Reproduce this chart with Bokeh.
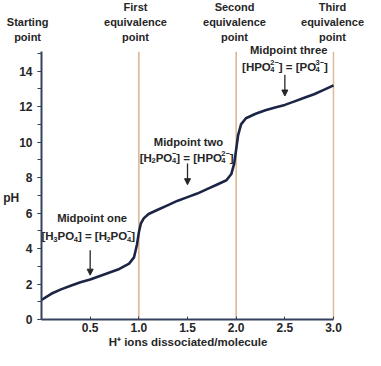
from bokeh.plotting import figure
from bokeh.layouts import column
from bokeh.models import (Range1d, FixedTicker, SingleIntervalTicker, Label, Arrow,
                          NormalHead, ColumnDataSource)
from bokeh.embed import file_html
from bokeh.resources import INLINE

# ---------------- data ----------------
h_dissociated = [0.0, 0.1, 0.2, 0.3, 0.4, 0.5, 0.6, 0.7, 0.8, 0.9, 0.95, 0.98, 1.0,
                 1.02, 1.05, 1.1, 1.2, 1.3, 1.4, 1.5, 1.6, 1.7, 1.8, 1.9, 1.95, 1.98,
                 2.0, 2.02, 2.05, 2.1, 2.2, 2.3, 2.4, 2.5, 2.6, 2.7, 2.8, 2.9, 3.0]
ph_values = [1.1, 1.45, 1.7, 1.9, 2.1, 2.25, 2.45, 2.65, 2.85, 3.15, 3.5, 4.2, 4.9,
             5.4, 5.7, 5.95, 6.2, 6.45, 6.7, 6.9, 7.1, 7.35, 7.6, 7.85, 8.2, 8.8,
             9.6, 10.4, 11.0, 11.35, 11.6, 11.8, 11.95, 12.1, 12.3, 12.5, 12.7, 12.95, 13.2]

equivalence_x = [1.0, 2.0, 3.0]
x_ticks = [0.5, 1.0, 1.5, 2.0, 2.5, 3.0]
x_tick_labels = ["0.5", "1.0", "1.5", "2.0", "2.5", "3.0"]
y_ticks = [0, 2, 4, 6, 8, 10, 12, 14]
y_tick_labels = ["0", "2", "4", "6", "8", "10", "12", "14"]

header_x = [0.0, 1.0, 2.0, 3.0]
header_lines = [["Starting", "point"],
                ["First", "equivalence", "point"],
                ["Second", "equivalence", "point"],
                ["Third", "equivalence", "point"]]

midpoint_x = [0.5, 1.5, 2.5]
midpoint_titles = ["Midpoint one", "Midpoint two", "Midpoint three"]
# formula pieces: ("b", text) normal, ("sub", text) subscript, ("st", sub, sup) stacked
midpoint_equations = [
    [("b", "[H"), ("sub", "3"), ("b", "PO"), ("sub", "4"), ("b", "] = [H"), ("sub", "2"),
     ("b", "PO"), ("st", "4", "\u2212"), ("b", "]")],
    [("b", "[H"), ("sub", "2"), ("b", "PO"), ("st", "4", "\u2212"), ("b", "] = [HPO"),
     ("st", "4", "2\u2212"), ("b", "]")],
    [("b", "[HPO"), ("st", "4", "2\u2212"), ("b", "] = [PO"), ("st", "4", "3\u2212"), ("b", "]")],
]
midpoint_ph = [2.5, 7.6, 12.6]

# ---------------- layout ----------------
W, H = 365, 350
HEAD = 43
LEFT = 36
BOTTOM = 320
X0, X1 = 0.0, 3.01
PX_X = 99.0
RIGHT = LEFT + round((X1 - X0) * PX_X)
PX_Y = 17.8
Y_AXIS_TOP = 15.1
Y1 = (BOTTOM - HEAD) / PX_Y

NAVY = "#1c2545"
AXIS = "#34425f"
TAN = "#dcb896"
TEXT = "#262626"
FONT = "Liberation Sans"

# Liberation Sans Bold advance widths (em) for formula layout
ADV = {"[": 0.333, "]": 0.333, "H": 0.722, "P": 0.667, "O": 0.778, " ": 0.278,
       "=": 0.584, "\u2212": 0.584}
for d in "0123456789":
    ADV[d] = 0.556


def twidth(s, size):
    return sum(ADV.get(c, 0.6) for c in s) * size


# ---- header strip ----
head = figure(width=W, height=HEAD, output_backend="svg", toolbar_location=None,
              x_range=Range1d(X0 - LEFT / PX_X, X0 + (W - LEFT) / PX_X),
              y_range=Range1d(0, HEAD), x_axis_type=None, y_axis_type=None,
              min_border_left=0, min_border_right=0, min_border_top=0, min_border_bottom=0,
              frame_align=False)
head.outline_line_color = None
head.grid.visible = False

row_y = [HEAD - 6, HEAD - 21, HEAD - 36]
for hxv, lines in zip(header_x, header_lines):
    xpos = hxv
    if hxv == 0.0:
        xpos = -0.09
    if hxv == 3.0:
        xpos = 2.99
    for ry, t in zip(row_y[-len(lines):], lines):
        head.add_layout(Label(x=xpos, y=ry, text=t, text_align="center",
                              text_baseline="middle", text_font=FONT,
                              text_font_style="bold", text_font_size="11px",
                              text_color=TEXT))

# ---- main chart ----
p = figure(width=W, height=H - HEAD, output_backend="svg", toolbar_location=None,
           x_range=Range1d(X0, X1), y_range=Range1d(0, Y1),
           min_border_left=LEFT, min_border_right=W - RIGHT,
           min_border_top=0, min_border_bottom=H - BOTTOM, frame_align=False)
p.outline_line_color = None
p.grid.visible = False

eq_src = ColumnDataSource(dict(x=equivalence_x, y0=[0] * len(equivalence_x),
                               y1=[Y_AXIS_TOP] * len(equivalence_x)))
p.segment(x0="x", y0="y0", x1="x", y1="y1", source=eq_src, line_color=TAN, line_width=1.6)

p.line(h_dissociated, ph_values, line_color=NAVY, line_width=2.6, line_join="round")

xa = p.xaxis[0]
xa.ticker = FixedTicker(ticks=x_ticks)
xa.major_label_overrides = {t: l for t, l in zip(x_ticks, x_tick_labels)}
xa.bounds = (0, 3.0)
xa.axis_line_color = AXIS
xa.axis_line_width = 2
xa.major_tick_in = 3
xa.major_tick_out = 0
xa.major_tick_line_color = AXIS
xa.minor_tick_line_color = None
xa.major_label_standoff = 3
xa.major_label_text_font = FONT
xa.major_label_text_font_style = "bold"
xa.major_label_text_font_size = "12px"
xa.major_label_text_color = TEXT
xa.axis_label = "H\u207a ions dissociated/molecule"
xa.axis_label_standoff = 1
xa.axis_label_text_font = FONT
xa.axis_label_text_font_style = "bold"
xa.axis_label_text_font_size = "11.5px"
xa.axis_label_text_color = TEXT

ya = p.yaxis[0]
ya.ticker = SingleIntervalTicker(interval=2, num_minor_ticks=2)
ya.major_label_overrides = {t: l for t, l in zip(y_ticks, y_tick_labels)}
ya.bounds = (0, Y_AXIS_TOP)
ya.axis_line_color = AXIS
ya.axis_line_width = 2
ya.major_tick_in = 0
ya.major_tick_out = 4
ya.minor_tick_in = 0
ya.minor_tick_out = 4
ya.major_tick_line_color = AXIS
ya.minor_tick_line_color = AXIS
ya.major_label_standoff = 5
ya.major_label_text_font = FONT
ya.major_label_text_font_style = "bold"
ya.major_label_text_font_size = "12px"
ya.major_label_text_color = TEXT
ya.axis_label = "\n\npH"
ya.axis_label_orientation = "horizontal"
ya.axis_label_standoff = -3
ya.axis_label_text_font = FONT
ya.axis_label_text_font_style = "bold"
ya.axis_label_text_font_size = "12px"
ya.axis_label_text_color = TEXT


def piece(x, y, text, size):
    p.add_layout(Label(x=x, y=y, text=text, text_align="left", text_baseline="alphabetic",
                       text_font=FONT, text_font_style="bold", text_font_size=f"{size}px",
                       text_color=TEXT))


BASE, SMALL = 11.5, 7.5
SUB_DROP, SUP_RISE = 3.0, 4.5


def formula(cx, base_y, parts):
    widths = []
    for part in parts:
        if part[0] == "b":
            widths.append(twidth(part[1], BASE))
        elif part[0] == "sub":
            widths.append(twidth(part[1], SMALL))
        else:
            widths.append(max(twidth(part[1], SMALL), twidth(part[2], SMALL)))
    total = sum(widths)
    x = cx - total / 2 / PX_X
    for part, w in zip(parts, widths):
        if part[0] == "b":
            piece(x, base_y, part[1], BASE)
        elif part[0] == "sub":
            piece(x, base_y - SUB_DROP / PX_Y, part[1], SMALL)
        else:
            piece(x, base_y - SUB_DROP / PX_Y, part[1], SMALL)
            piece(x, base_y + SUP_RISE / PX_Y, part[2], SMALL)
        x += w / PX_X


title_x = [0.52, 1.51, 2.54]
title_ph = [5.74, 10.0, 15.21]
eq_x = [0.48, 1.49, 2.50]
eq_base_ph = [4.7, 9.13, 14.26]
arrow_top = [3.9, 8.8, 13.8]
for mx, t, e, tx, tp, ex, ep, at, ab in zip(midpoint_x, midpoint_titles, midpoint_equations,
                                            title_x, title_ph, eq_x, eq_base_ph,
                                            arrow_top, midpoint_ph):
    p.add_layout(Label(x=tx, y=tp, text=t, text_align="center", text_baseline="middle",
                       text_font=FONT, text_font_style="bold", text_font_size="11.25px",
                       text_color=TEXT))
    formula(ex, ep, e)
    p.add_layout(Arrow(end=NormalHead(size=6, line_color=TEXT, fill_color=TEXT, line_width=1),
                       x_start=mx, y_start=at, x_end=mx, y_end=ab,
                       line_color=TEXT, line_width=1.3))

layout = column(head, p, spacing=0)
open("out.html", "w").write(file_html(layout, INLINE))
